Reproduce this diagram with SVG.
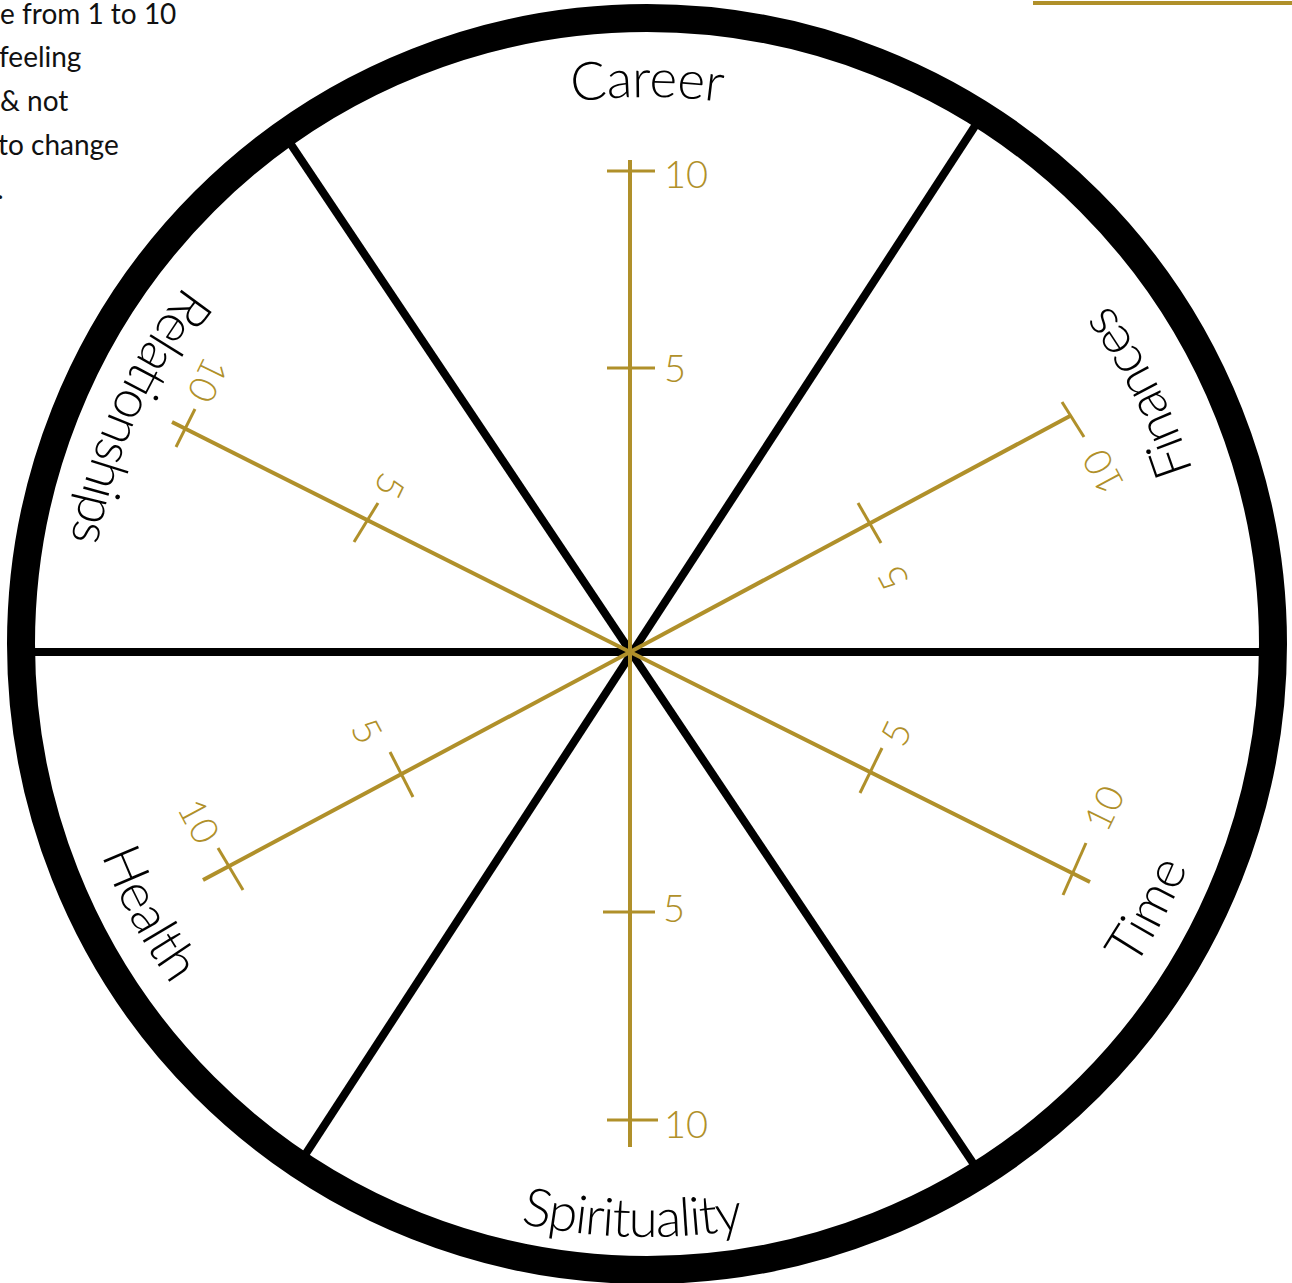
<svg xmlns="http://www.w3.org/2000/svg" xmlns:xlink="http://www.w3.org/1999/xlink" width="1292" height="1283" viewBox="0 0 1292 1283">
<style>
.ring{fill:none;stroke:#000;stroke-width:28}
.spoke{stroke:#000;stroke-width:8;stroke-linecap:butt}
.axis{stroke:#B0902A;stroke-width:4;fill:none}
.tick{stroke:#B0902A;stroke-width:3}
.num{font-family:Lato,"Liberation Sans",sans-serif;font-weight:300;font-size:38px;fill:#B0902A}
.lab{font-family:Lato,"Liberation Sans",sans-serif;font-weight:300;font-size:53px;fill:#000}
.note{font-family:Lato,"Liberation Sans",sans-serif;font-size:28px;fill:#111}
</style>
<defs>
<path id="arcIn" d="M 140.4 936.5 A 585 585 0 0 0 1153.6 936.5"/>
<path id="arcFi" d="M 151.6 930.5 A 572 572 0 0 0 1142.4 930.5"/>
<path id="arcSp" d="M 133.5 940.5 A 593 593 0 0 0 1160.5 940.5"/>
<path id="arcCa" d="M 173.3 370.5 A 547 547 0 0 1 1120.7 370.5"/>
</defs>
<g id="note">
<text class="note" x="0" y="24">e from 1 to 10</text>
<text class="note" x="-1" y="67">feeling</text>
<text class="note" x="0" y="111">&amp; not</text>
<text class="note" x="-2" y="155">to change</text>
<text class="note" x="-3" y="199">.</text>
</g>
<line id="legend-line" x1="1033" y1="3" x2="1292" y2="3" stroke="#B0902A" stroke-width="4"/>
<g id="wheel">
<circle class="ring" cx="647" cy="644" r="626"/>
</g>
<g id="connectors">
<line class="spoke" x1="33" y1="652" x2="1262" y2="652"/>
<line class="spoke" x1="290" y1="143" x2="973" y2="1163"/>
<line class="spoke" x1="975" y1="126" x2="305" y2="1155"/>
</g>
<g id="axis-vertical">
<line class="axis" x1="630" y1="160" x2="630" y2="1147"/>
<line class="tick" x1="607" y1="171" x2="655" y2="171"/>
<line class="tick" x1="607" y1="368" x2="655" y2="368"/>
<line class="tick" x1="603" y1="912" x2="655" y2="912"/>
<line class="tick" x1="607" y1="1120" x2="658" y2="1120"/>
<text class="num" x="664" y="188">10</text>
<text class="num" x="664" y="382">5</text>
<text class="num" x="663" y="922">5</text>
<text class="num" x="664" y="1138">10</text>
</g>
<g id="axis-finances">
<line class="axis" x1="630" y1="652" x2="1070" y2="416"/>
<line class="tick" x1="858" y1="503" x2="881" y2="543"/>
<line class="tick" x1="1062" y1="402" x2="1084" y2="437"/>
<text class="num" transform="translate(893,578) rotate(-118)" text-anchor="middle" dy="0.36em">5</text>
<text class="num" transform="translate(1103,472) rotate(-118)" text-anchor="middle" dy="0.36em">10</text>
</g>
<g id="axis-time">
<line class="axis" x1="630" y1="652" x2="1090" y2="882"/>
<line class="tick" x1="860" y1="793" x2="882" y2="748"/>
<line class="tick" x1="1063" y1="895" x2="1086" y2="843"/>
<text class="num" transform="translate(896,733) rotate(-64)" text-anchor="middle" dy="0.36em">5</text>
<text class="num" transform="translate(1104,808) rotate(-64)" text-anchor="middle" dy="0.36em">10</text>
</g>
<g id="axis-health">
<line class="axis" x1="630" y1="652" x2="203" y2="880"/>
<line class="tick" x1="390" y1="752" x2="413" y2="797"/>
<line class="tick" x1="218" y1="848" x2="243" y2="890"/>
<text class="num" transform="translate(367,731) rotate(62)" text-anchor="middle" dy="0.36em">5</text>
<text class="num" transform="translate(199,821) rotate(62)" text-anchor="middle" dy="0.36em">10</text>
</g>
<g id="axis-relationships">
<line class="axis" x1="630" y1="652" x2="172" y2="422"/>
<line class="tick" x1="378" y1="503" x2="354" y2="542"/>
<line class="tick" x1="195" y1="409" x2="176" y2="447"/>
<text class="num" transform="translate(390,486) rotate(116)" text-anchor="middle" dy="0.36em">5</text>
<text class="num" transform="translate(208,380) rotate(116)" text-anchor="middle" dy="0.36em">10</text>
</g>
<g id="label-career">
<text class="lab"><textPath href="#arcCa" startOffset="50%" text-anchor="middle" textLength="150">Career</textPath></text>
</g>
<g id="label-finances">
<text class="lab" transform="rotate(-117 647 644)"><textPath href="#arcFi" startOffset="50%" text-anchor="middle" textLength="188">Finances</textPath></text>
</g>
<g id="label-time">
<text class="lab" transform="rotate(-62 647 644)"><textPath href="#arcIn" startOffset="50%" text-anchor="middle" textLength="114">Time</textPath></text>
</g>
<g id="label-spirituality">
<text class="lab" transform="rotate(1.45 647 644)"><textPath href="#arcSp" startOffset="50%" text-anchor="middle" textLength="225">Spirituality</textPath></text>
</g>
<g id="label-health">
<text class="lab" transform="rotate(61.6 647 644)"><textPath href="#arcIn" startOffset="50%" text-anchor="middle" textLength="148">Health</textPath></text>
</g>
<g id="label-relationships">
<text class="lab" transform="rotate(114 647 644)"><textPath href="#arcIn" startOffset="50%" text-anchor="middle" textLength="282">Relationships</textPath></text>
</g>
</svg>
